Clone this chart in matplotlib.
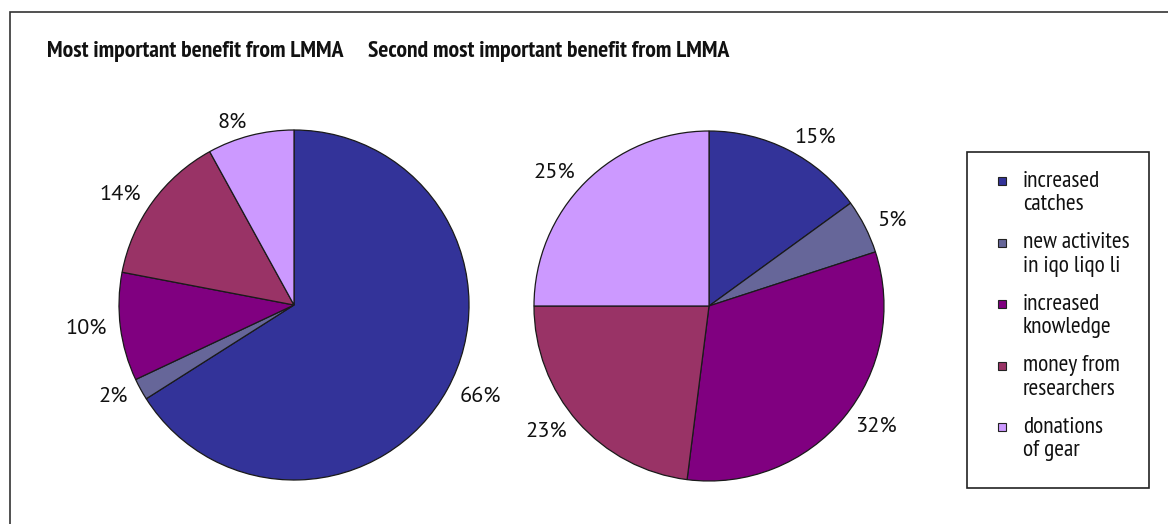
import matplotlib
matplotlib.use("Agg")
import matplotlib.pyplot as plt
from matplotlib.patches import Rectangle

# data
categories = ["increased\ncatches", "new activites\nin iqo liqo li", "increased\nknowledge",
              "money from\nresearchers", "donations\nof gear"]
most_important = [66, 2, 10, 14, 8]
second_important = [15, 5, 32, 23, 25]
titles = ["Most important benefit from LMMA", "Second most important benefit from LMMA"]
colors = ["#333399", "#666699", "#800080", "#993366", "#CC99FF"]

W, H = 1168, 524
NARROW = ["PT Sans Narrow", "DejaVu Sans"]
REG = ["PT Sans", "DejaVu Sans"]

fig = plt.figure(figsize=(W / 100, H / 100), dpi=100)

R = 175  # pie radius, px
L = 1.3


def pie_axes(cx, cy):
    s = 2 * L * R
    ax = fig.add_axes([(cx - s / 2) / W, (H - cy - s / 2) / H, s / W, s / H])
    ax.axis("off")
    return ax


for (cx, cy), vals, title, tx in [((294, 305), most_important, titles[0], 47),
                                  ((709, 306), second_important, titles[1], 368)]:
    ax = pie_axes(cx, cy)
    wedges, texts = ax.pie(vals, colors=colors, startangle=90, counterclock=False,
                           labels=[f"{v}%" for v in vals], labeldistance=1.08,
                           wedgeprops=dict(edgecolor="#1a1a1a", linewidth=0.9),
                           textprops=dict(fontsize=16, family=REG, color="#111111"))
    ax.set_xlim(-L, L)
    ax.set_ylim(-L, L)
    ax.set_aspect("equal")
    fig.text(tx / W, 1 - 52 / H, title, fontsize=17, fontweight="bold",
             family=NARROW, ha="left", va="center", color="#111111")

# outer frame (only left and top edges visible)
fig.patches.append(Rectangle((10 / W, -0.1), 1.2, (H - 12) / H + 0.1, transform=fig.transFigure,
                             fill=False, edgecolor="#333333", linewidth=1.2))

# legend box
fig.patches.append(Rectangle((967 / W, (H - 488) / H), 182 / W, 336 / H, transform=fig.transFigure,
                             fill=False, edgecolor="#222222", linewidth=1.2))
for i, (lab, col) in enumerate(zip(categories, colors)):
    y = 181 + 61.5 * i
    fig.patches.append(Rectangle(((1002 - 4) / W, (H - y - 4) / H), 8 / W, 8 / H,
                                 transform=fig.transFigure, facecolor=col,
                                 edgecolor="#222222", linewidth=0.8))
    fig.text(1023 / W, 1 - (y + 12) / H, lab, fontsize=16.8, family=NARROW,
             ha="left", va="center", linespacing=1.16, color="#111111")

fig.savefig("out.png", dpi=100)
